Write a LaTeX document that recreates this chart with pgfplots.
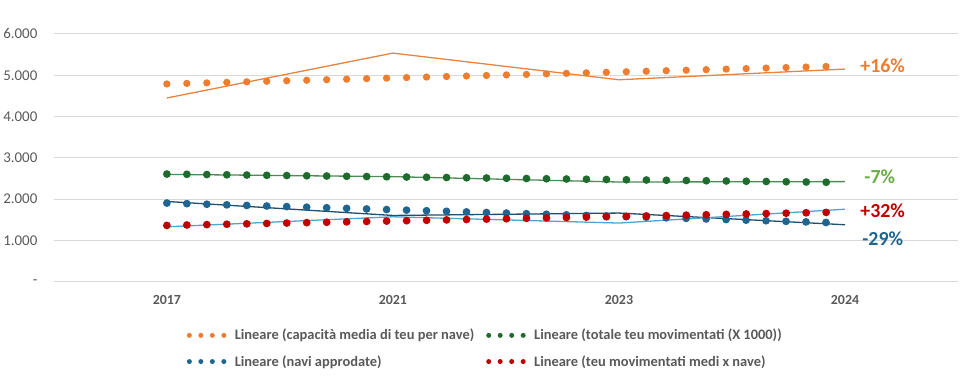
\documentclass[border=0pt]{standalone}
\usepackage{pgfplots}
\pgfplotsset{compat=1.18}
\usepackage{fontspec}
\setmainfont{Carlito}
\definecolor{cOr}{HTML}{ED7D31}
\definecolor{cOrL}{HTML}{E8843F}
\definecolor{cGr}{HTML}{1E6B2D}
\definecolor{cGrL}{HTML}{4F8A55}
\definecolor{cGrT}{HTML}{6AAE46}
\definecolor{cBl}{HTML}{1F6590}
\definecolor{cBlL}{HTML}{1F4E6E}
\definecolor{cTeuL}{HTML}{4FA6CC}
\definecolor{cRd}{HTML}{C00000}
\definecolor{cGrid}{HTML}{D9D9D9}
\definecolor{cTick}{HTML}{595959}
\begin{document}
\begin{tikzpicture}
\begin{axis}[
  scale only axis, width=905bp, height=248bp,
  xmin=-0.5, xmax=3.5, ymin=0, ymax=6000,
  xtick={0,1,2,3}, xticklabels={2017,2021,2023,2024},
  ytick={0,1000,2000,3000,4000,5000,6000},
  yticklabels={-,1.000,2.000,3.000,4.000,5.000,6.000},
  axis line style={draw=none}, major tick length=0pt,
  ymajorgrids, grid style={draw=cGrid, line width=1bp},
  yticklabel style={font=\fontsize{15}{15}\selectfont, text=cTick, xshift=-13bp},
  xticklabel style={font=\fontsize{14}{14}\selectfont\bfseries, text=cTick, yshift=-10bp},
  legend columns=2, legend cell align=left,
  legend style={draw=none, fill=none, at={(0.1436,-0.175)}, anchor=north west,
    font=\fontsize{14.5}{14.5}\selectfont\bfseries, text=cTick,
    /tikz/every odd column/.append style={column sep=6bp},
    /tikz/every even column/.append style={column sep=10bp},
    row sep=10bp},
  legend image code/.code={\draw[#1, line width=5bp, line cap=round, dash pattern=on 0pt off 11.5bp] (0bp,0bp) -- (35bp,0bp);},
  clip=false,
]
% actual series (thin lines)
\addplot[cOrL, line width=1.3bp, forget plot] coordinates {(0,4450) (1,5537) (2,4891) (3,5150)};
\addplot[cGrL, line width=1.3bp, forget plot] coordinates {(0,2600) (1,2545) (2,2415) (3,2425)};
\addplot[cBlL, line width=1.3bp, forget plot] coordinates {(0,1944) (1,1605) (2,1663) (3,1380)};
\addplot[cTeuL, line width=1.3bp, forget plot] coordinates {(0,1330) (1,1573) (2,1421) (3,1756)};
% linear trend lines (dotted)
\addplot[cOr, line width=7.3bp, line cap=round, dash pattern=on 0pt off 20bp] coordinates {(0,4790) (3,5225)};
\addlegendentry{Lineare (capacità media di teu per nave)}
\addplot[cGr, line width=7.8bp, line cap=round, dash pattern=on 0pt off 20bp] coordinates {(0,2608) (3,2404)};
\addlegendentry{Lineare (totale teu movimentati (X 1000))}
\addplot[cBl, line width=7.8bp, line cap=round, dash pattern=on 0pt off 20bp] coordinates {(0,1905) (3,1421)};
\addlegendentry{Lineare (navi approdate)}
\addplot[cRd, line width=7.8bp, line cap=round, dash pattern=on 0pt off 20bp] coordinates {(0,1364) (3,1688)};
\addlegendentry{Lineare (teu movimentati medi x nave)}
\node[anchor=west, inner sep=0pt, text=cOr, font=\fontsize{20}{20}\selectfont\bfseries] at (axis cs:3.067,5226) {+16\%};
\node[anchor=west, inner sep=0pt, text=cGrT, font=\fontsize{20}{20}\selectfont\bfseries] at (axis cs:3.085,2548) {-7\%};
\node[anchor=west, inner sep=0pt, text=cRd, font=\fontsize{20}{20}\selectfont\bfseries] at (axis cs:3.067,1725) {+32\%};
\node[anchor=west, inner sep=0pt, text=cBl, font=\fontsize{20}{20}\selectfont\bfseries] at (axis cs:3.076,1033) {-29\%};
\end{axis}
\path[use as bounding box] (-53bp,-96bp) rectangle (912bp,282bp);
\end{tikzpicture}
\end{document}
